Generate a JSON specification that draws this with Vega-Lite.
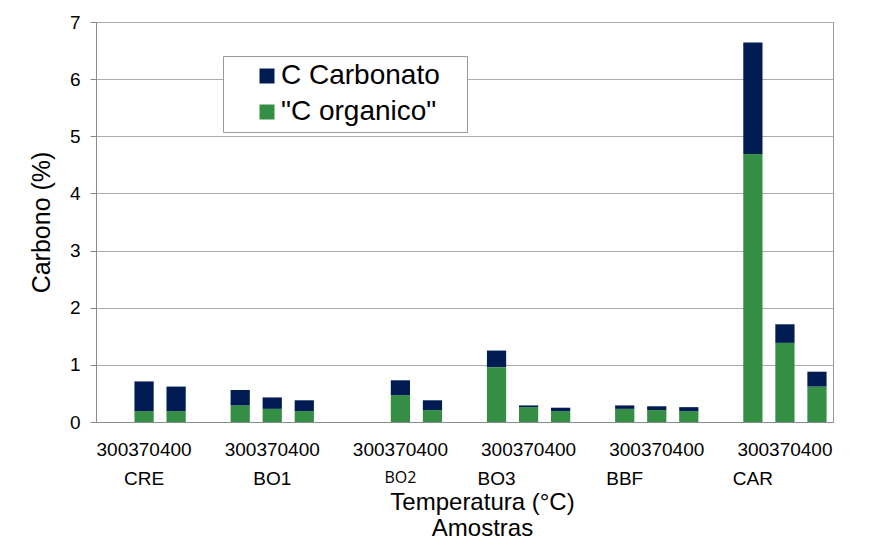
{
  "$schema": "https://vega.github.io/schema/vega-lite/v6.json",
  "width": 737,
  "height": 400,
  "autosize": {"type": "none"},
  "padding": {"left": 96, "top": 22, "right": 41, "bottom": 128},
  "background": "white",
  "datasets": {
    "carbono": [
      {"amostra": "CRE", "temperatura": "370", "tipo": "\"C organico\"", "valor": 0.19},
      {"amostra": "CRE", "temperatura": "370", "tipo": "C Carbonato", "valor": 0.52},
      {"amostra": "CRE", "temperatura": "400", "tipo": "\"C organico\"", "valor": 0.19},
      {"amostra": "CRE", "temperatura": "400", "tipo": "C Carbonato", "valor": 0.43},
      {"amostra": "BO1", "temperatura": "300", "tipo": "\"C organico\"", "valor": 0.29},
      {"amostra": "BO1", "temperatura": "300", "tipo": "C Carbonato", "valor": 0.27},
      {"amostra": "BO1", "temperatura": "370", "tipo": "\"C organico\"", "valor": 0.23},
      {"amostra": "BO1", "temperatura": "370", "tipo": "C Carbonato", "valor": 0.2},
      {"amostra": "BO1", "temperatura": "400", "tipo": "\"C organico\"", "valor": 0.19},
      {"amostra": "BO1", "temperatura": "400", "tipo": "C Carbonato", "valor": 0.19},
      {"amostra": "BO2", "temperatura": "370", "tipo": "\"C organico\"", "valor": 0.47},
      {"amostra": "BO2", "temperatura": "370", "tipo": "C Carbonato", "valor": 0.26},
      {"amostra": "BO2", "temperatura": "400", "tipo": "\"C organico\"", "valor": 0.21},
      {"amostra": "BO2", "temperatura": "400", "tipo": "C Carbonato", "valor": 0.17},
      {"amostra": "BO3", "temperatura": "300", "tipo": "\"C organico\"", "valor": 0.96},
      {"amostra": "BO3", "temperatura": "300", "tipo": "C Carbonato", "valor": 0.29},
      {"amostra": "BO3", "temperatura": "370", "tipo": "\"C organico\"", "valor": 0.26},
      {"amostra": "BO3", "temperatura": "370", "tipo": "C Carbonato", "valor": 0.03},
      {"amostra": "BO3", "temperatura": "400", "tipo": "\"C organico\"", "valor": 0.19},
      {"amostra": "BO3", "temperatura": "400", "tipo": "C Carbonato", "valor": 0.06},
      {"amostra": "BBF", "temperatura": "300", "tipo": "\"C organico\"", "valor": 0.23},
      {"amostra": "BBF", "temperatura": "300", "tipo": "C Carbonato", "valor": 0.06},
      {"amostra": "BBF", "temperatura": "370", "tipo": "\"C organico\"", "valor": 0.21},
      {"amostra": "BBF", "temperatura": "370", "tipo": "C Carbonato", "valor": 0.065},
      {"amostra": "BBF", "temperatura": "400", "tipo": "\"C organico\"", "valor": 0.19},
      {"amostra": "BBF", "temperatura": "400", "tipo": "C Carbonato", "valor": 0.07},
      {"amostra": "CAR", "temperatura": "300", "tipo": "\"C organico\"", "valor": 4.69},
      {"amostra": "CAR", "temperatura": "300", "tipo": "C Carbonato", "valor": 1.95},
      {"amostra": "CAR", "temperatura": "370", "tipo": "\"C organico\"", "valor": 1.385},
      {"amostra": "CAR", "temperatura": "370", "tipo": "C Carbonato", "valor": 0.325},
      {"amostra": "CAR", "temperatura": "400", "tipo": "\"C organico\"", "valor": 0.62},
      {"amostra": "CAR", "temperatura": "400", "tipo": "C Carbonato", "valor": 0.26}
    ],
    "nomes": [
      {"amostra": "CRE", "temperatura": "370", "nome": "CRE"},
      {"amostra": "BO1", "temperatura": "370", "nome": "BO1"},
      {"amostra": "BO3", "temperatura": "300", "nome": "BO3"},
      {"amostra": "BBF", "temperatura": "300", "nome": "BBF"},
      {"amostra": "CAR", "temperatura": "300", "nome": "CAR"}
    ],
    "nomes_pequenos": [
      {"amostra": "BO2", "temperatura": "370", "nome": "BO2"}
    ]
  },
  "encoding": {
    "x": {
      "field": "amostra",
      "type": "nominal",
      "sort": ["CRE", "BO1", "BO2", "BO3", "BBF", "CAR"],
      "scale": {"domain": ["CRE", "BO1", "BO2", "BO3", "BBF", "CAR"], "paddingInner": 0.25, "paddingOuter": 0},
      "axis": {
        "title": ["Temperatura (°C)", "Amostras"],
        "titleFontSize": 24,
        "titleFontWeight": "normal",
        "titleFont": "Liberation Sans",
        "titleColor": "black",
        "titleLineHeight": 26,
        "titlePadding": 31,
        "titleX": 386,
        "titleAnchor": "middle",
        "labelExpr": "'300370400'",
        "labelAngle": 0,
        "labelFontSize": 19,
        "labelFont": "Liberation Sans",
        "labelColor": "black",
        "labelPadding": 18,
        "ticks": false,
        "tickSize": 0,
        "grid": false,
        "domainColor": "#8a8a8a"
      }
    },
    "xOffset": {
      "field": "temperatura",
      "type": "nominal",
      "scale": {"domain": ["300", "370", "400"], "paddingInner": 0.4, "paddingOuter": 0.2}
    }
  },
  "layer": [
    {
      "data": {"name": "carbono"},
      "mark": {"type": "bar"},
      "encoding": {
        "y": {
          "field": "valor",
          "type": "quantitative",
          "stack": "zero",
          "scale": {"domain": [0, 7], "nice": false},
          "axis": {
            "title": "Carbono (%)",
            "titleFontSize": 25,
            "titleFontWeight": "normal",
            "titleFont": "Liberation Sans",
            "titleColor": "black",
            "titlePadding": 15,
            "values": [0, 1, 2, 3, 4, 5, 6, 7],
            "format": "d",
            "labelFontSize": 19,
            "labelFont": "Liberation Sans",
            "labelColor": "black",
            "labelPadding": 10,
            "tickSize": 6,
            "tickColor": "#8a8a8a",
            "domainColor": "#8a8a8a",
            "gridColor": "#ababab"
          }
        },
        "color": {
          "field": "tipo",
          "type": "nominal",
          "scale": {"domain": ["C Carbonato", "\"C organico\""], "range": ["#011c52", "#348f45"]},
          "legend": {
            "title": null,
            "orient": "none",
            "legendX": 127,
            "legendY": 34,
            "direction": "vertical",
            "symbolType": "square",
            "symbolSize": 225,
            "symbolStrokeWidth": 0,
            "symbolOffset": 24,
            "labelExpr": "datum.label + '\u2800'",
            "labelLimit": 400,
            "labelFontSize": 28,
            "labelFont": "Liberation Sans",
            "labelColor": "black",
            "labelOffset": 0,
            "rowPadding": 8,
            "padding": 6,
            "strokeColor": "#9a9a9a",
            "fillColor": "white"
          }
        },
        "order": {"field": "tipo", "sort": "ascending"}
      }
    },
    {
      "data": {"name": "nomes"},
      "mark": {"type": "text", "font": "Liberation Sans", "fontSize": 19, "color": "black", "baseline": "alphabetic", "align": "center"},
      "encoding": {
        "y": {"datum": -1.1},
        "text": {"field": "nome"}
      }
    },
    {
      "data": {"name": "nomes_pequenos"},
      "mark": {"type": "text", "font": "Open Sans", "fontSize": 16, "color": "black", "baseline": "alphabetic", "align": "center"},
      "encoding": {
        "y": {"datum": -1.07},
        "text": {"field": "nome"}
      }
    }
  ],
  "config": {
    "view": {"stroke": "#9a9a9a", "strokeWidth": 1},
    "font": "Liberation Sans"
  }
}
